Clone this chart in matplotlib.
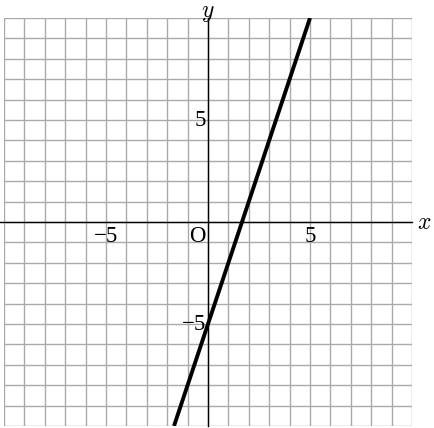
import matplotlib.pyplot as plt

plt.rcParams['mathtext.fontset'] = 'cm'

# y = 3x - 5, drawn across the grid
line_x = [-5 / 3, 5]
line_y = [-10, 10]

grid_ticks = list(range(-10, 11))
x_labels = {-5: "\u22125", 5: "5"}
y_labels = {-5: "\u22125", 5: "5"}

fig = plt.figure(figsize=(4.34, 4.28), dpi=100)
ax = fig.add_axes([4 / 434, 2 / 428, 408 / 434, 408 / 428])
ax.set_xlim(-10, 10)
ax.set_ylim(-10, 10)
ax.axis('off')

for t in grid_ticks:
    ax.plot([t, t], [-10, 10], color='#aaaaaa', lw=1.0, zorder=1)
    ax.plot([-10, 10], [t, t], color='#aaaaaa', lw=1.0, zorder=1)

# axes
ax.plot([-10.2, 10], [0, 0], color='black', lw=1.0, zorder=2, clip_on=False)
ax.plot([0, 0], [-10, 10], color='black', lw=1.0, zorder=2, clip_on=False)

ax.plot(line_x, line_y, color='black', lw=2.8, zorder=3, solid_capstyle='butt')

font = dict(family='Liberation Serif', fontsize=16.5)
for v, s in x_labels.items():
    ax.text(v, -0.2, s, ha='center', va='top', **font)
ax.text(-0.5, -0.2, "O", ha='center', va='top', **font)
for v, s in y_labels.items():
    ax.text(-0.1, v, s, ha='right', va='center', **font)

ax.text(10.25, 0, "$x$", ha='left', va='center', fontsize=17, clip_on=False)
fig.text(208 / 434, 1.0, "$y$", ha='center', va='top', fontsize=17)

fig.savefig("out.png", dpi=100)
